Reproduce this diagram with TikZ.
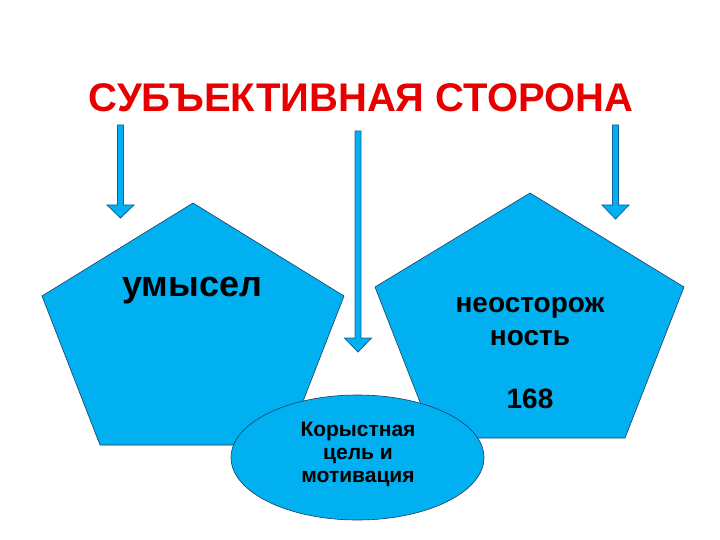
\documentclass[tikz,border=0pt]{standalone}
\usepackage{fontspec}
\setmainfont{Liberation Sans}
\usetikzlibrary{shapes.geometric}
\definecolor{fillblue}{RGB}{0,176,240}
\definecolor{edgeblue}{RGB}{30,60,95}
\definecolor{arrowedge}{RGB}{25,95,150}
\definecolor{titlered}{RGB}{232,0,0}
\tikzset{
  shapefill/.style={fill=fillblue, draw=edgeblue, line width=0.6pt, line join=miter},
  arrowfill/.style={fill=fillblue, draw=arrowedge, line width=0.8pt, line join=miter},
  titletext/.style={text=titlered, font=\fontsize{40}{46}\selectfont\bfseries, inner sep=0pt},
  bigtext/.style={text=black, font=\fontsize{36}{40}\selectfont\bfseries, inner sep=0pt},
  midtext/.style={text=black, font=\fontsize{28}{33}\selectfont\bfseries, inner sep=0pt, align=center},
  smalltext/.style={text=black, font=\fontsize{21}{23}\selectfont\bfseries, inner sep=0pt, align=center},
}
\newcommand\downblock[4]{%
  \path[arrowfill] (#1-3,#2) -- (#1+3,#2) -- (#1+3,#3) -- (#1+13.5,#3) -- (#1,#4)
    -- (#1-13.5,#3) -- (#1-3,#3) -- cycle;}
\begin{document}
\begin{tikzpicture}[x=1pt,y=-1pt]
\useasboundingbox (0,0) rectangle (720,540);
% title
\node[titletext, anchor=base] (title) at (361,112) {СУБЪЕКТИВНАЯ СТОРОНА};
% arrows
\downblock{120.5}{125}{205}{218}
\downblock{358}{131}{338}{352}
\downblock{615.5}{125}{205}{219}
% pentagons
\path[shapefill] (193,203) -- (344,296) -- (286,445) -- (100,445) -- (42,296) -- cycle;
\path[shapefill] (530,193) -- (684,287) -- (625,438) -- (434,438) -- (375,287) -- cycle;
% ellipse
\node[ellipse, shapefill, minimum width=253pt, minimum height=125pt, inner sep=0pt] (goal) at (357.5,457.5) {};
% texts
\node[bigtext, anchor=base] (umysel) at (192,296) {умысел};
\node[midtext, anchor=base] (neost) at (530,408) {неосторож\\ность\\[30pt]168};
\node[smalltext, anchor=base] (goaltext) at (358,482) {Корыстная\\цель и\\мотивация};
\end{tikzpicture}
\end{document}
